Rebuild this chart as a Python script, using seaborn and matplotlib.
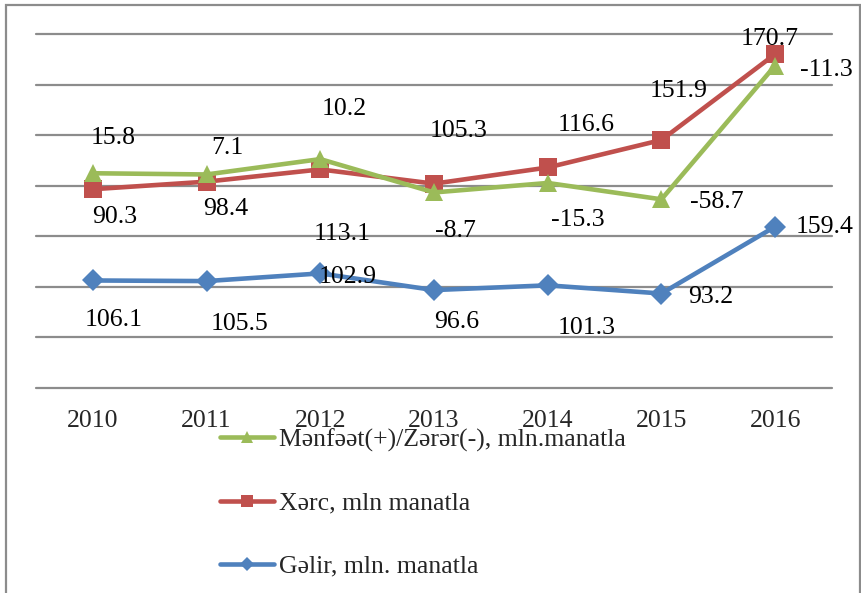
import matplotlib
matplotlib.use("Agg")
import matplotlib.pyplot as plt
from matplotlib.lines import Line2D
from matplotlib.patches import Rectangle
import numpy as np
import pandas as pd
import seaborn as sns

# ---- data ----
years = [2010, 2011, 2012, 2013, 2014, 2015, 2016]
gelir = [106.1, 105.5, 113.1, 96.6, 101.3, 93.2, 159.4]
xerc = [90.3, 98.4, 102.9, 105.3, 116.6, 151.9, 170.7]
menfeet = [15.8, 7.1, 10.2, -8.7, -15.3, -58.7, -11.3]

name_gelir = "Gəlir, mln. manatla"
name_xerc = "Xərc, mln manatla"
name_menfeet = "Mənfəət(+)/Zərər(-), mln.manatla"

# stacked line chart (Excel style)
s_gelir = np.array(gelir)
s_xerc = s_gelir + np.array(xerc)
s_menfeet = s_xerc + np.array(menfeet)

# label offsets in pixels (dx, dy downwards)
off_gelir = [(21, 40), (33, 43), (22, -39), (23, 32), (39, 43), (49, 3), (49, 0)]
off_xerc = [(22, 28), (19, 27), (27, 108), (25, -53), (38, -42), (17, -49), (-5, -15)]
off_menfeet = [(20, -35), (21, -26), (24, -50), (21, 39), (30, 37), (55, 3), (51, 4)]

C_G = "#4F81BD"
C_X = "#C0504D"
C_M = "#9BBB59"
GRID = "#8C8C8C"

sns.set_theme(style="white")
plt.rcParams["font.family"] = ["Liberation Serif", "DejaVu Serif"]
FS = 18.5

fig = plt.figure(figsize=(8.62, 5.93), dpi=100)
ax = fig.add_axes([36 / 862, 1 - 387.7 / 593, (832 - 36) / 862, (387.7 - 34) / 593])

df = pd.DataFrame({"year": years, "g": s_gelir, "x": s_xerc, "m": s_menfeet})

lw = 3.3
ms = 13
sns.lineplot(data=df, x="year", y="g", ax=ax, color=C_G, lw=lw, marker="D",
             markersize=ms * 0.9, markeredgewidth=0, zorder=3)
sns.lineplot(data=df, x="year", y="x", ax=ax, color=C_X, lw=lw, marker="s",
             markersize=ms, markeredgewidth=0, zorder=4)
sns.lineplot(data=df, x="year", y="m", ax=ax, color=C_M, lw=lw, marker="^",
             markersize=ms, markeredgewidth=0, zorder=5)

ax.set_xlim(years[0] - 0.5, years[-1] + 0.5)
ax.set_ylim(0, 350)
ax.set_yticks(np.arange(0, 351, 50))
ax.set_yticklabels([])
ax.set_xticks(years)
ax.set_xticklabels([str(y) for y in years], fontsize=FS)
ax.tick_params(axis="both", length=0)
ax.tick_params(axis="x", pad=16)
ax.set_xlabel("")
ax.set_ylabel("")
for sp in ax.spines.values():
    sp.set_visible(False)
for v in np.arange(0, 351, 50):
    ax.axhline(v, color=GRID, lw=1.6, zorder=1, clip_on=False)
ax.grid(False)
ax.patch.set_alpha(0)


def put_labels(vals, ys, offs):
    for yr, val, yv, (dx, dy) in zip(years, vals, ys, offs):
        ax.annotate(f"{val:.1f}", xy=(yr, yv), xytext=(dx, -dy),
                    textcoords="offset pixels", ha="center", va="center",
                    fontsize=FS, color="black", zorder=6, annotation_clip=False)


put_labels(gelir, s_gelir, off_gelir)
put_labels(xerc, s_xerc, off_xerc)
put_labels(menfeet, s_menfeet, off_menfeet)

handles = [
    Line2D([], [], color=C_M, lw=lw, marker="^", markersize=8, markeredgewidth=0),
    Line2D([], [], color=C_X, lw=lw, marker="s", markersize=8, markeredgewidth=0),
    Line2D([], [], color=C_G, lw=lw, marker="D", markersize=7, markeredgewidth=0),
]
fig.legend(handles, [name_menfeet, name_xerc, name_gelir], loc="center left",
           bbox_to_anchor=(220 / 862, 1 - 503 / 593), bbox_transform=fig.transFigure,
           frameon=False, fontsize=FS, borderpad=0, borderaxespad=0,
           handlelength=2.1, handletextpad=0.2, labelspacing=1.56)

fig.patches.append(Rectangle((6.5 / 862, -0.05), (860.5 - 6.5) / 862, 1.05 - 5.5 / 593,
                             transform=fig.transFigure, fill=False,
                             edgecolor=GRID, lw=1.6))

fig.savefig("out.png", dpi=100)
